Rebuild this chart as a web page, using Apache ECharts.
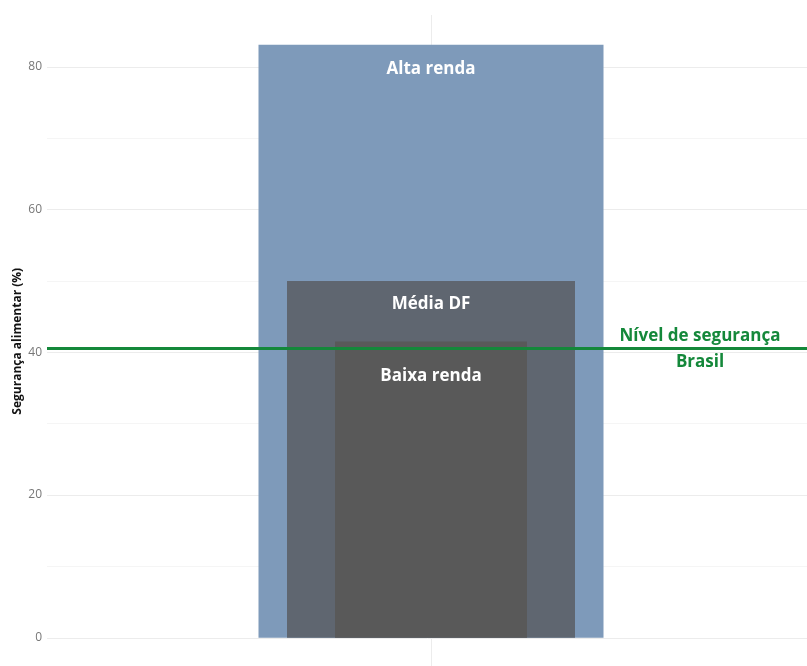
<!DOCTYPE html>
<html><head><meta charset="utf-8">
<script src="https://cdn.jsdelivr.net/npm/echarts@6/dist/echarts.min.js"></script>
<style>html,body{margin:0;padding:0;background:#fff}#c{width:807px;height:666px}</style>
</head><body><div id="c"></div>
<script>
const categories = ['DF'];
const groups = ['Alta renda', 'Média DF', 'Baixa renda'];
const values = [83.1, 50.0, 41.5];
const brasilLevel = 40.5;
const brasilLabel = 'Nível de segurança\nBrasil';
const yTicks = [0, 20, 40, 60, 80];
const minorTicks = [10, 30, 50, 70];
const yName = 'Segurança alimentar (%)';

const colors = ['#7e9aba', '#5f6670', '#595959'];
const widths = [345, 288, 192];
const labelDist = [16, 15, 26];
const FONT = '"Open Sans", Lato, sans-serif';

const yMin = -0.05 * values[0], yMax = values[0] * 1.05;

const chart = echarts.init(document.getElementById('c'));
const xAxes = groups.map((g, i) => ({
  type: 'category', data: categories, show: i === 0,
  axisLine: {show: false}, axisTick: {show: false}, axisLabel: {show: false},
  splitLine: {show: false}
}));

const series = groups.map((g, i) => ({
  type: 'bar', name: g, xAxisIndex: i, data: [values[i]],
  barWidth: widths[i], z: 2 + i,
  itemStyle: {color: colors[i]},
  label: {show: true, position: 'insideTop', distance: labelDist[i],
    formatter: g, color: '#fff', fontFamily: FONT, fontWeight: 'bold', fontSize: 17},
  silent: true
}));

// grid lines
series[0].markLine = {
  silent: true, symbol: 'none', z: 1, animation: false,
  label: {show: false},
  data: [
    ...yTicks.map(v => ({yAxis: v, lineStyle: {color: '#ececec', width: 1, type: 'solid'}})),
    ...minorTicks.map(v => ({yAxis: v, lineStyle: {color: '#f5f5f5', width: 1, type: 'solid'}})),
    {xAxis: categories[0], lineStyle: {color: '#ececec', width: 1, type: 'solid'}}
  ]
};
// Brasil reference line
series[2].markLine = {
  silent: true, symbol: 'none', z: 10, animation: false,
  lineStyle: {color: '#14883a', width: 3, type: 'solid'},
  label: {show: true, position: 'insideEndTop', distance: [115, 0],
    align: 'center', verticalAlign: 'middle',
    formatter: brasilLabel, color: '#14883a', fontFamily: FONT, fontWeight: 'bold',
    fontSize: 17, lineHeight: 26},
  data: [{yAxis: brasilLevel}]
};

chart.setOption({
  animation: false,
  grid: {left: 47, right: -8, top: 15, bottom: -1.5, containLabel: false, outerBoundsMode: 'none'},
  xAxis: xAxes,
  yAxis: {
    type: 'value', min: yMin, max: yMax,
    name: yName, nameLocation: 'middle', nameGap: 23, nameMoveOverlap: false,
    nameTextStyle: {color: '#111', fontFamily: FONT, fontWeight: 'bold', fontSize: 12},
    axisLine: {show: false}, axisTick: {show: false},
    splitLine: {show: false},
    axisLabel: {customValues: yTicks, color: '#777', fontFamily: FONT, fontSize: 12, margin: 5}
  },
  series
});
</script></body></html>
